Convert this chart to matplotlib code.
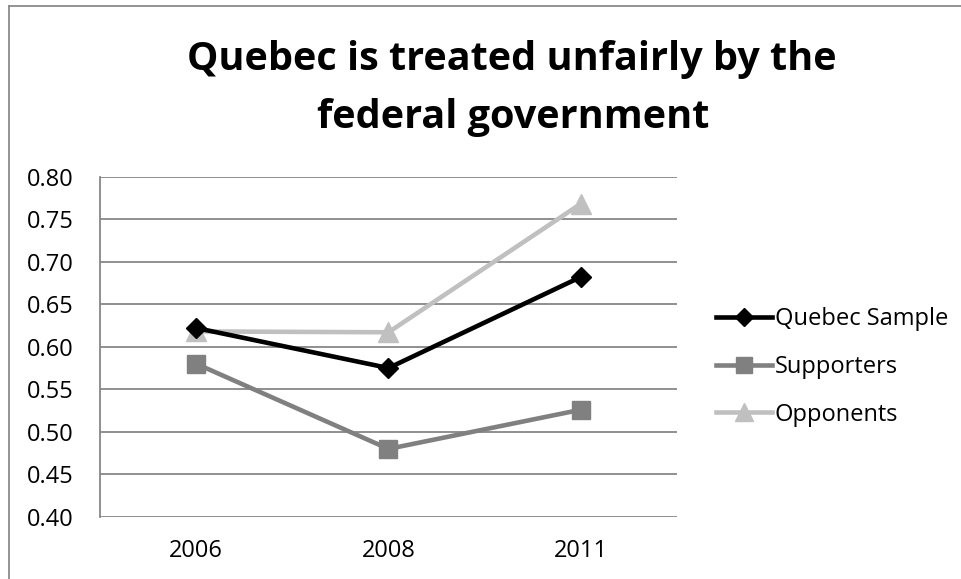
import matplotlib
matplotlib.use("Agg")
import matplotlib.pyplot as plt
from matplotlib.lines import Line2D

years = ["2006", "2008", "2011"]
quebec_sample = [0.622, 0.575, 0.682]
supporters = [0.580, 0.480, 0.526]
opponents = [0.618, 0.617, 0.768]
yticks = [0.40, 0.45, 0.50, 0.55, 0.60, 0.65, 0.70, 0.75, 0.80]

plt.rcParams['font.family'] = ['Open Sans', 'DejaVu Sans']

W, H = 962, 579
fig = plt.figure(figsize=(W / 100, H / 100), dpi=100)
fig.patch.set_facecolor("white")
# outer chart border (top and left visible)
fig.add_artist(Line2D([9 / W, 9 / W], [0, 1 - 6 / H], transform=fig.transFigure,
                      color="#8a8a8a", lw=1.3))
fig.add_artist(Line2D([9 / W, 1], [1 - 6 / H, 1 - 6 / H], transform=fig.transFigure,
                      color="#8a8a8a", lw=1.3))

ax = fig.add_axes([100 / W, 1 - 517 / H, (677 - 100) / W, (517 - 176.5) / H])
x = list(range(len(years)))

ax.plot(x, opponents, color="#C0C0C0", lw=3.3, marker="^", ms=15, label="Opponents", zorder=3)
ax.plot(x, quebec_sample, color="#000000", lw=3.3, marker="D", ms=10, label="Quebec Sample", zorder=4)
ax.plot(x, supporters, color="#808080", lw=3.3, marker="s", ms=13.5, label="Supporters", zorder=3)

ax.set_xlim(-0.5, len(years) - 0.5)
ax.set_ylim(0.40, 0.80)
ax.set_yticks(yticks)
ax.set_yticklabels([f"{v:.2f}" for v in yticks], fontsize=17)
ax.set_xticks(x)
ax.set_xticklabels(years, fontsize=17)
ax.tick_params(axis="y", length=0, pad=19)
ax.tick_params(axis="x", length=0, pad=16)
ax.grid(axis="y", color="#878787", lw=1.3)
ax.set_axisbelow(True)
for s in ["top", "right", "bottom"]:
    ax.spines[s].set_visible(False)
ax.spines["left"].set_color("#878787")
ax.spines["left"].set_linewidth(1.3)

fig.text(512 / W, 1 - 70 / H, "Quebec is treated unfairly by the",
         ha="center", va="baseline", fontsize=28.5, fontweight="bold")
fig.text(513 / W, 1 - 128 / H, "federal government",
         ha="center", va="baseline", fontsize=28.5, fontweight="bold")

h, l = ax.get_legend_handles_labels()
order = [1, 2, 0]
ax.legend([h[i] for i in order], [l[i] for i in order], loc="center left",
          bbox_to_anchor=(716 / W, 1 - 367 / H), bbox_transform=fig.transFigure,
          frameon=False, fontsize=17, handlelength=2.37, handletextpad=0.12,
          labelspacing=1.0, borderpad=0, borderaxespad=0, markerscale=0.9)

fig.savefig("out.png", dpi=100, facecolor="white")
